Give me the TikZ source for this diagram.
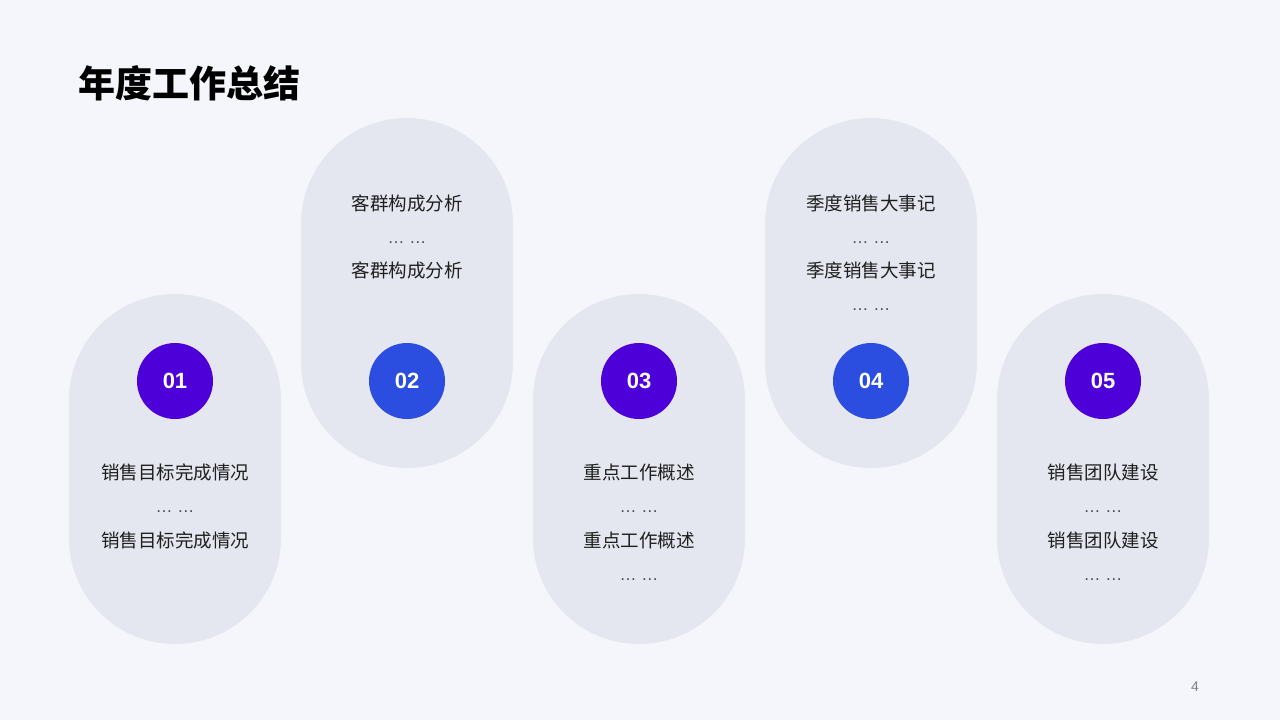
\documentclass[tikz,border=0pt]{standalone}
\usepackage{fontspec}
\setmainfont{Liberation Sans}
\newfontfamily\cjk{Noto Sans CJK SC}
\definecolor{bgleft}{HTML}{F1F3FA}
\definecolor{bgright}{HTML}{F3F2FC}
\definecolor{pillcol}{HTML}{E4E7F0}
\definecolor{violet}{HTML}{4D00D8}
\definecolor{royal}{HTML}{2B4EE0}
\definecolor{txtcol}{HTML}{1F1F1F}
\definecolor{dotcol}{HTML}{4A4A4A}
\tikzset{
  pill/.style={fill=pillcol, rounded corners=105.9pt, minimum width=212pt, minimum height=350pt, inner sep=0pt},
  numdot/.style={circle, minimum size=76pt, inner sep=0pt, text=white, font=\fontsize{22}{26}\selectfont\bfseries},
  item/.style={text=txtcol, font=\cjk\fontsize{18.5}{22}\selectfont, inner sep=0pt},
  dots/.style={text=dotcol, font=\fontsize{17}{20}\selectfont, inner sep=0pt, anchor=base},
}
\begin{document}
\begin{tikzpicture}[x=1pt, y=-1pt]
    % 1. Nền
    \useasboundingbox (0,0) rectangle (1280,720);
    \fill[bgleft] (0,0) rectangle (1280,720);
    \fill[white, opacity=0.25] (0,0) rectangle (1280,720);

    % 2. Tiêu đề
    \node[anchor=west, inner sep=0pt, font=\cjk\fontsize{37}{44}\selectfont\bfseries] (title) at (78,83) {年度工作总结};

    % 3. Các khung bo tròn
    \node[pill] (p1) at (175,469) {};
    \node[pill] (p2) at (407,293) {};
    \node[pill] (p3) at (639,469) {};
    \node[pill] (p4) at (871,293) {};
    \node[pill] (p5) at (1103,469) {};

    % 4. Các vòng tròn số
    \node[numdot, fill=violet] (n1) at (175,381) {01};
    \node[numdot, fill=royal] (n2) at (407,381) {02};
    \node[numdot, fill=violet] (n3) at (639,381) {03};
    \node[numdot, fill=royal] (n4) at (871,381) {04};
    \node[numdot, fill=violet] (n5) at (1103,381) {05};

    % 5. Nội dung
    \node[item] (t1a) at (175,472) {销售目标完成情况};
    \node[dots] (d1a) at (175,512) {… …};
    \node[item] (t1b) at (175,540) {销售目标完成情况};

    \node[item] (t2a) at (407,203) {客群构成分析};
    \node[dots] (d2a) at (407,243) {… …};
    \node[item] (t2b) at (407,270) {客群构成分析};

    \node[item] (t3a) at (639,472) {重点工作概述};
    \node[dots] (d3a) at (639,512) {… …};
    \node[item] (t3b) at (639,540) {重点工作概述};
    \node[dots] (d3b) at (639,580) {… …};

    \node[item] (t4a) at (871,203) {季度销售大事记};
    \node[dots] (d4a) at (871,243) {… …};
    \node[item] (t4b) at (871,270) {季度销售大事记};
    \node[dots] (d4b) at (871,310) {… …};

    \node[item] (t5a) at (1103,472) {销售团队建设};
    \node[dots] (d5a) at (1103,512) {… …};
    \node[item] (t5b) at (1103,540) {销售团队建设};
    \node[dots] (d5b) at (1103,580) {… …};

    % 6. Số trang
    \node[text=gray, font=\fontsize{14}{16}\selectfont] (page) at (1195,687) {4};
\end{tikzpicture}
\end{document}
